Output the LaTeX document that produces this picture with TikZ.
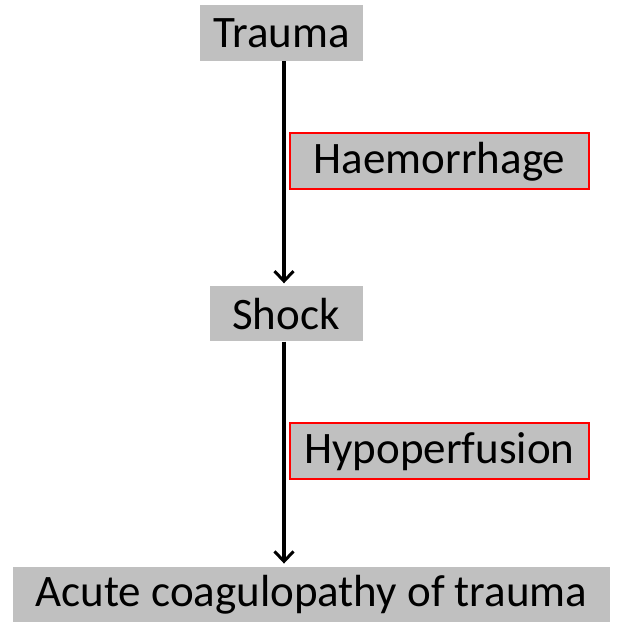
\documentclass[tikz,border=0pt]{standalone}
\usepackage{fontspec}
\setmainfont{Carlito}
\usetikzlibrary{arrows.meta}
\definecolor{boxgray}{RGB}{192,192,192}
\definecolor{boxred}{RGB}{255,0,0}
\begin{document}
\begin{tikzpicture}[x=1pt,y=1pt,
  base/.style={fill=boxgray,inner sep=0pt,font=\fontsize{45}{47}\selectfont,text=black,anchor=center},
  plainbox/.style={base,draw=none},
  redbox/.style={base,draw=boxred,line width=2pt},
  arr/.style={line width=3.2pt,-{Straight Barb[length=10pt,width=19pt,line width=3pt]},shorten >=3pt}]
\useasboundingbox (0,0) rectangle (621,622);
\node[plainbox,minimum width=163pt,minimum height=56pt] (trauma) at (281.5,589) {Trauma};
\node[redbox,minimum width=299pt,minimum height=56pt] (haem) at (439.5,460.5) {Haemorrhage};
\node[plainbox,minimum width=153pt,minimum height=55pt] (shock) at (286,308) {Shock};
\node[redbox,minimum width=299pt,minimum height=56pt] (hypo) at (439.5,170.5) {Hypoperfusion};
\node[plainbox,minimum width=597pt,minimum height=55.5pt] (acute) at (311.5,27.5) {Acute coagulopathy of trauma};
\coordinate (ax) at (284,0);
\draw[arr] (trauma.south -| ax) -- (shock.north -| ax);
\draw[arr] (shock.south -| ax) -- (acute.north -| ax);
\end{tikzpicture}
\end{document}
